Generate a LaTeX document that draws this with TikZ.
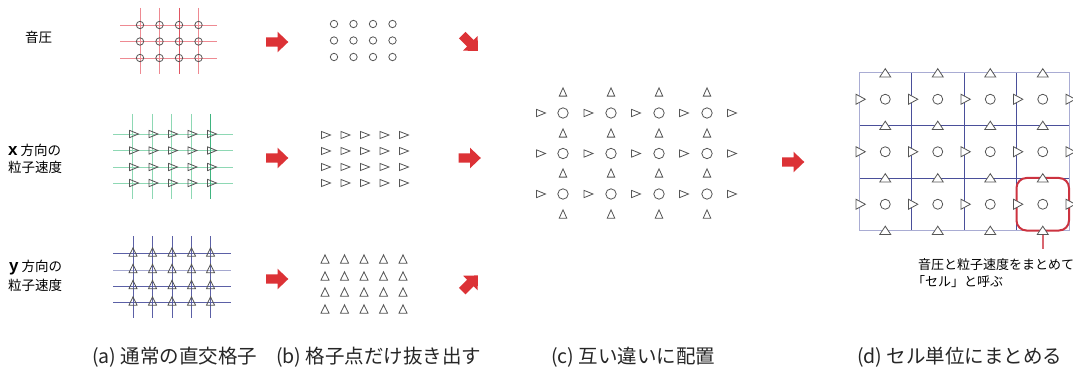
\documentclass[tikz,border=0pt]{standalone}
\usepackage{fontspec}
\newfontfamily\jp{Noto Sans CJK JP}
\newfontfamily\lat{Liberation Sans}
\definecolor{gred}{HTML}{EE8A92}
\definecolor{gredd}{HTML}{E05562}
\definecolor{ggreen}{HTML}{8ED8B4}
\definecolor{ggreend}{HTML}{3FB47F}
\definecolor{gblue}{HTML}{5B60A6}
\definecolor{gbluel}{HTML}{A5A8D0}
\definecolor{arrowred}{HTML}{DC3236}
\definecolor{cellred}{HTML}{CC3340}
\definecolor{gridd}{HTML}{4A4F9A}
\definecolor{gridl}{HTML}{A9ACD3}
\definecolor{shapegray}{HTML}{555555}
\newcommand\rtri[4]{\draw[shp] (#1,#2) ++({-#3/2},{-#4/2}) -- ++(#3,{#4/2}) -- ++({-#3},{#4/2}) -- cycle;}
\newcommand\utri[4]{\draw[shp] (#1,#2) ++({-#3/2},{#4/2}) -- ++(#3,0) -- ++({-#3/2},{-#4}) -- cycle;}
\begin{document}
\begin{tikzpicture}[x=1pt,y=-1pt,
  shp/.style={draw=shapegray, line width=0.8pt},
  lbl/.style={font=\jp\fontsize{13.5}{15}\selectfont, inner sep=0pt},
  captext/.style={font=\jp\fontsize{19.5}{21}\selectfont, inner sep=0pt, anchor=west, text=black!85},
  notetext/.style={font=\jp\fontsize{13}{15}\selectfont, inner sep=0pt, anchor=west},
  fatarrow/.pic={\fill[arrowred] (-11,-4.6) -- (0.5,-4.6) -- (0.5,-10.3) -- (11.3,0) -- (0.5,10.3) -- (0.5,4.6) -- (-11,4.6) -- cycle;}]
\useasboundingbox (0,0) rectangle (1073,374);
\fill[white] (0,0) rectangle (1073,374);

% ---------- left labels ----------
\node[lbl, anchor=west] (lp) at (25,37) {音圧};
\node[lbl, anchor=west] (lx1) at (8,150) {{\lat\bfseries\fontsize{17}{17}\selectfont x} 方向の};
\node[lbl, anchor=west] (lx2) at (8,167) {粒子速度};
\node[lbl, anchor=west] (ly1) at (9,268) {{\lat\bfseries\fontsize{17}{17}\selectfont y} 方向の};
\node[lbl, anchor=west] (ly2) at (8,285) {粒子速度};

% ---------- (a) pressure grid ----------
\foreach \y in {25,41.5,58} \draw[gred, line width=0.9pt] (120,\y) -- (217,\y);
\foreach \x/\c in {140/gred,159.5/gred,179/gredd,198.5/gred} \draw[\c, line width=0.9pt] (\x,8) -- (\x,74);
\foreach \x in {140,159.5,179,198.5} \foreach \y in {25,41.5,58} \draw[shp] (\x,\y) circle (3.7);

% ---------- (a) x velocity grid ----------
\foreach \y in {134,150.5,167,183} \draw[ggreen, line width=0.9pt] (113,\y) -- (233,\y);
\foreach \x/\c in {132.8/ggreen,152.3/ggreen,171.8/ggreen,191.3/ggreen,210.8/ggreend} \draw[\c, line width=0.9pt] (\x,114) -- (\x,199);
\foreach \x in {134,153.5,173,192.5,212} \foreach \y in {134,150.5,167,183} {\rtri{\x}{\y}{9}{7.3}}

% ---------- (a) y velocity grid ----------
\foreach \y/\c in {253.5/gblue,270/gbluel,286/gblue,302.5/gblue} \draw[\c, line width=0.9pt] (113,\y) -- (231,\y);
\foreach \x in {133,152.5,172,191.5,210.5} \draw[gblue, line width=0.9pt] (\x,236) -- (\x,318);
\foreach \x in {133,152.5,172,191.5,210.5} \foreach \y in {252,268.5,284.5,301} {\utri{\x}{\y}{8}{8.3}}

% ---------- arrows (a)->(b) ----------
\pic at (277,42) {fatarrow};
\pic at (277,158) {fatarrow};
\pic at (277,279) {fatarrow};

% ---------- (b) ----------
\foreach \x in {334,353.5,373,392.5} \foreach \y in {24,40.5,57} \draw[shp] (\x,\y) circle (3.7);
\foreach \x in {326,345.5,365,384.5,404} \foreach \y in {135,151,167,183} {\rtri{\x}{\y}{9}{7}}
\foreach \x in {325,344.5,364,383.5,403} \foreach \y in {259,276,292,309} {\utri{\x}{\y}{8}{8.3}}

% ---------- arrows (b)->(c) ----------
\pic[rotate=-45] at (470,43) {fatarrow};
\pic at (469.5,158) {fatarrow};
\pic[rotate=45] at (470,283.4) {fatarrow};

% ---------- (c) staggered ----------
\foreach \x in {563,611,659,707} \foreach \y in {113,153.5,194} \draw[shp] (\x,\y) circle (5.2);
\foreach \x in {541,588.5,636,684,732} \foreach \y in {113,153.5,194} {\rtri{\x}{\y}{9}{7.3}}
\foreach \x in {563,611,659,707} \foreach \y in {92,133,173,214} {\utri{\x}{\y}{7.5}{8.3}}

% ---------- arrow (c)->(d) ----------
\pic at (793,162) {fatarrow};

% ---------- (d) cells ----------
\foreach \x in {911.5,964,1016.5} \draw[gridd, line width=0.9pt] (\x,73) -- (\x,230.5);
\foreach \y in {125.5,178} \draw[gridd, line width=0.9pt] (859,\y) -- (1069,\y);
\draw[gridl, line width=1pt] (859,73) rectangle (1069,230.5);
\foreach \x in {885.25,937.75,990.25,1042.75} \foreach \y in {99.25,151.75,204.25} \draw[shp] (\x,\y) circle (5);
% highlighted cell
\draw[cellred, line width=2pt, rounded corners=10pt] (1016.5,178) rectangle (1069,230.5);
\foreach \x in {885.25,937.75,990.25,1042.75} \foreach \y in {73,125.5,178,230.5} {\draw[shp, fill=white] (\x,\y) ++(-5.5,4) -- ++(11,0) -- ++(-5.5,-8.3) -- cycle;}
\foreach \x in {860.5,913,965.5,1018,1070.5} \foreach \y in {99.25,151.75,204.25} {\draw[shp, fill=white] (\x,\y) ++(-4.5,-5) -- ++(9.3,5) -- ++(-9.3,5) -- cycle;}

\coordinate (cellbot) at (1042.75,234.5);
\coordinate (calltop) at (1042.75,249);
\draw[cellred!75!white, line width=2pt] (cellbot) -- (calltop);
\node[notetext] (n1) at (918,265) {音圧と粒子速度をまとめて};
\node[notetext] (n2) at (912,281.5) {「セル」と呼ぶ};

% ---------- captions ----------
\node[captext] (ca) at (92,357) {(a) 通常の直交格子};
\node[captext] (cb) at (276,357) {(b) 格子点だけ抜き出す};
\node[captext] (cc) at (551,357) {(c) 互い違いに配置};
\node[captext] (cd) at (857,357) {(d) セル単位にまとめる};
\end{tikzpicture}
\end{document}
